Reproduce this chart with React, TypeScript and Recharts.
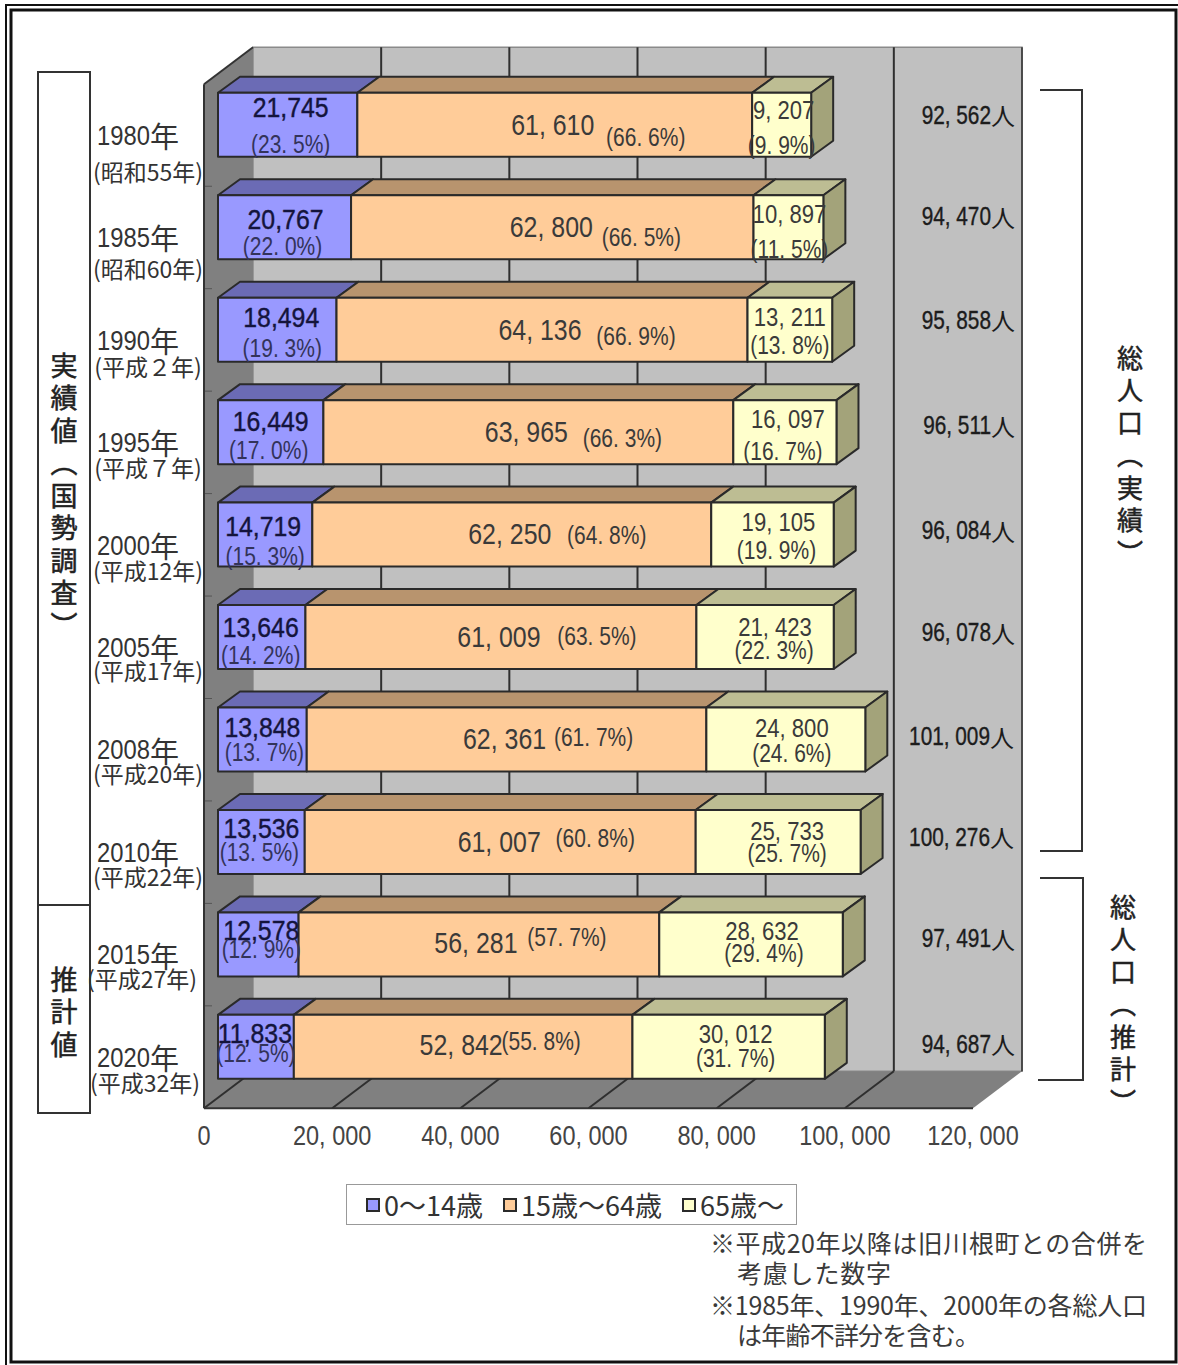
import React from "react";
import { Bar, BarChart, LabelList, Legend, XAxis, YAxis } from "recharts";

// data
const years = ["1980", "1985", "1990", "1995", "2000", "2005", "2008", "2010", "2015", "2020"];
const eras = ["(昭和55年)", "(昭和60年)", "(平成２年)", "(平成７年)", "(平成12年)", "(平成17年)", "(平成20年)", "(平成22年)", "(平成27年)", "(平成32年)"];
const young = [21745, 20767, 18494, 16449, 14719, 13646, 13848, 13536, 12578, 11833];
const working = [61610, 62800, 64136, 63965, 62250, 61009, 62361, 61007, 56281, 52842];
const elderly = [9207, 10897, 13211, 16097, 19105, 21423, 24800, 25733, 28632, 30012];
const youngPct = [23.5, 22.0, 19.3, 17.0, 15.3, 14.2, 13.7, 13.5, 12.9, 12.5];
const workingPct = [66.6, 66.5, 66.9, 66.3, 64.8, 63.5, 61.7, 60.8, 57.7, 55.8];
const elderlyPct = [9.9, 11.5, 13.8, 16.7, 19.9, 22.3, 24.6, 25.7, 29.4, 31.7];
const totals = [92562, 94470, 95858, 96511, 96084, 96078, 101009, 100276, 97491, 94687];
const xTicks = [0, 20000, 40000, 60000, 80000, 100000, 120000];
const xTickLabels = ["0", "20, 000", "40, 000", "60, 000", "80, 000", "100, 000", "120, 000"];

const chartData = years.map((year, i) => ({
  year,
  young: young[i],
  working: working[i],
  elderly: elderly[i],
}));

// label nudges, relative to the segment centre (x) and bar top (y)
const youngValDx = [3, 1, 4, 0, -2, -1, 0, 0, 3, -1];
const youngValDy = [15, 24, 20, 21, 24, 23, 20, 19, 18, 19];
const youngPctDx = [3, -2, 5, -2, 0, -1, 2, -2, 3, 0];
const youngPctDy = [52, 51, 51, 50, 54, 50, 45, 42, 37, 38];
const workingValDx = [-2, -1, -2, -2, -2, -2, -2, -1, -3, -2];
const workingValDy = [33, 32, 33, 32, 32, 32, 32, 32, 31, 30];
const workingPctDx = [91, 89, 94, 94, 95, 96, 87, 95, 88, 78];
const workingPctDy = [45, 42, 39, 38, 33, 31, 30, 28, 25, 26];
const elderlyValDx = [2, 1, 0, 3, 6, 10, 6, 9, 11, 7];
const elderlyValDy = [17, 19, 19, 19, 19, 22, 20, 21, 18, 19];
const elderlyPctDx = [0, 1, 0, -2, 4, 9, 6, 9, 13, 7];
const elderlyPctDy = [53, 54, 48, 51, 48, 45, 46, 43, 41, 43];
const totalDy = [22, 21, 22, 25, 28, 27, 29, 27, 26, 29];
const eraDy = [47, 42, 37, 36, 36, 34, 34, 35, 34, 36];
const eraDx = [0, 0, 0, 0, 0, 0, 0, 0, -6, -3];

const WIDTH = 1178;
const HEIGHT = 1365;
const PLOT_LEFT = 218;
const PLOT_W = 769;
const PLOT_TOP = 73.8;
const PLOT_H = 1024.5;
const X_MAX = 120000;
// how far the chart floor runs back, and where the bars sit in that depth
const BACK_DX = 49;
const BACK_DY = 37;
const FRONT_DX = 14;
const FRONT_DY = 10;
const BAR_DX = 22;
const BAR_DY = 16;
const WALL_H = 1024;

const LATIN = '"Liberation Sans", sans-serif';
const CJK = '"Noto Sans CJK JP", sans-serif';
const INK = "#2a2a2a";

const fmt = (v: number) => String(v).replace(/(\d)(\d{3})$/, "$1, $2");
const fmtPct = (p: number) => `(${p.toFixed(1).replace(".", ". ")}%)`;

const front0 = PLOT_LEFT - FRONT_DX;
const frontY = PLOT_TOP + PLOT_H + FRONT_DY;
const backTop = frontY - BACK_DY - WALL_H;
const stepX = (v: number) => front0 + (v / X_MAX) * PLOT_W;

// the reference digits are tall and narrow, so squeeze them sideways
const SlimText = ({ x, y, size, sx, anchor = "middle", fill = "#3a3a3a", heavy = 0, children }: any) => (
  <text
    transform={`translate(${x},${y}) scale(${sx},1)`}
    fontFamily={LATIN}
    fontSize={size}
    fill={fill}
    stroke={heavy ? fill : "none"}
    strokeWidth={heavy}
    textAnchor={anchor}
    dominantBaseline="central"
  >
    {children}
  </text>
);

const Box3D = (top: string, side: string | null) => (props: any) => {
  const { x, y, width, height, fill } = props;
  const right = x + width;
  return (
    <g stroke={INK} strokeWidth={2} strokeLinejoin="round">
      <polygon
        points={`${x},${y} ${right},${y} ${right + BAR_DX},${y - BAR_DY} ${x + BAR_DX},${y - BAR_DY}`}
        fill={top}
      />
      {side && (
        <polygon
          points={`${right},${y} ${right + BAR_DX},${y - BAR_DY} ${right + BAR_DX},${y + height - BAR_DY} ${right},${y + height}`}
          fill={side}
        />
      )}
      <rect x={x} y={y} width={width} height={height} fill={fill} />
    </g>
  );
};

const segmentLabel =
  (
    valueText: (i: number) => string,
    pct: number[],
    valDx: number[],
    valDy: number[],
    pctDx: number[],
    pctDy: number[],
    valueColor: string,
    pctColor: string,
    valueSize: number,
    valueSx: number,
    valueHeavy: number
  ) =>
  (props: any) => {
    const box = props.viewBox ?? props;
    const i = props.index;
    const cx = box.x + box.width / 2;
    return (
      <g>
        <SlimText x={cx + valDx[i]} y={box.y + valDy[i]} size={valueSize} sx={valueSx} fill={valueColor} heavy={valueHeavy}>
          {valueText(i)}
        </SlimText>
        <SlimText x={cx + pctDx[i]} y={box.y + pctDy[i]} size={25} sx={0.84} fill={pctColor}>
          {fmtPct(pct[i])}
        </SlimText>
      </g>
    );
  };

const elderlyLabel = (props: any) => {
  const box = props.viewBox ?? props;
  const i = props.index;
  const inner = segmentLabel((n) => fmt(elderly[n]), elderlyPct, elderlyValDx, elderlyValDy, elderlyPctDx, elderlyPctDy, "#3a3a3a", "#3a3a3a", 26, 0.85, 0)(props);
  const end = totals[i] > 100000 ? 990 : 991;
  return (
    <g>
      {inner}
      <SlimText x={end} y={box.y + totalDy[i]} size={26} sx={0.8} anchor="end" fill="#1c1c1c" heavy={0.4}>
        {fmt(totals[i])}
      </SlimText>
      <text x={end} y={box.y + totalDy[i]} fontFamily={CJK} fontSize={24} fill="#1c1c1c" dominantBaseline="central">
        人
      </text>
    </g>
  );
};

const YearTick = (props: any) => {
  const { y, payload } = props;
  const i = payload.index;
  return (
    <g>
      <SlimText x={97} y={y + 10} size={28} sx={0.85} anchor="start" fill="#333">
        {years[i]}
      </SlimText>
      <text x={150} y={y + 10} fontFamily={CJK} fontSize={29} fill="#333" dominantBaseline="central">
        年
      </text>
      <text
        x={148 + eraDx[i]}
        y={y + eraDy[i] - 1}
        fontFamily={CJK}
        fontSize={23}
        fill="#333"
        textAnchor="middle"
        dominantBaseline="central"
      >
        {eras[i]}
      </text>
    </g>
  );
};

const ValueTick = (props: any) => {
  const { x, payload, index } = props;
  return (
    <SlimText x={x - FRONT_DX} y={frontY + 27} size={27} sx={0.87} fill="#444">
      {xTickLabels[index ?? xTicks.indexOf(payload.value)]}
    </SlimText>
  );
};

const AgeLegend = ({ payload }: any) => (
  <div
    style={{
      boxSizing: "border-box",
      width: 451,
      height: 41,
      background: "#fff",
      border: "1.5px solid #999",
      display: "flex",
      alignItems: "center",
      paddingLeft: 19,
      fontFamily: CJK,
      fontSize: 27,
      color: "#333",
      gap: 20,
      whiteSpace: "nowrap",
    }}
  >
    {(payload ?? []).map((item: any) => (
      <span key={item.value} style={{ display: "flex", alignItems: "center", gap: 4 }}>
        <span
          style={{
            boxSizing: "border-box",
            width: 14,
            height: 14,
            background: item.color,
            border: `2.5px solid ${INK}`,
          }}
        />
        {item.value}
      </span>
    ))}
  </div>
);

const Walls = () => (
  <g>
    <polygon
      points={`${front0 + BACK_DX},${backTop} ${front0 + BACK_DX + PLOT_W},${backTop} ${front0 + BACK_DX + PLOT_W},${frontY - BACK_DY} ${front0 + BACK_DX},${frontY - BACK_DY}`}
      fill="#c0c0c0"
      stroke="#8a8a8a"
      strokeWidth={1.5}
    />
    <polygon
      points={`${front0},${frontY} ${front0},${backTop + BACK_DY} ${front0 + BACK_DX},${backTop} ${front0 + BACK_DX},${frontY - BACK_DY}`}
      fill="#808080"
    />
    <polygon
      points={`${front0},${frontY} ${front0 + PLOT_W},${frontY} ${front0 + PLOT_W + BACK_DX},${frontY - BACK_DY} ${front0 + BACK_DX},${frontY - BACK_DY}`}
      fill="#808080"
    />
    {xTicks.map((v) => (
      <g key={v} stroke="#2f2f2f" strokeWidth={v === X_MAX ? 1.5 : 2}>
        {v > 0 && <line x1={stepX(v) + BACK_DX} y1={backTop} x2={stepX(v) + BACK_DX} y2={frontY - BACK_DY} />}
        {v < X_MAX && <line x1={stepX(v)} y1={frontY} x2={stepX(v) + BACK_DX} y2={frontY - BACK_DY} />}
      </g>
    ))}
    {years.slice(1).map((y, i) => {
      const ty = PLOT_TOP + ((i + 1) * PLOT_H) / years.length + FRONT_DY;
      return <line key={y} x1={front0} y1={ty} x2={front0 + 8} y2={ty} stroke="#555" strokeWidth={1} />;
    })}
    <line x1={front0} y1={backTop + BACK_DY} x2={front0 + BACK_DX} y2={backTop} stroke="#333" strokeWidth={2} />
    <line x1={front0} y1={backTop + BACK_DY} x2={front0} y2={frontY} stroke="#333" strokeWidth={2} />
    <line x1={front0} y1={frontY} x2={front0 + PLOT_W} y2={frontY} stroke="#333" strokeWidth={2} />
  </g>
);

const Frame = () => (
  <g fill="none" stroke="#111">
    <rect x={6} y={5} width={1200} height={1400} strokeWidth={2} />
    <rect x={11} y={10} width={1165} height={1352} strokeWidth={3} />
  </g>
);

const VerticalText = ({ x, y, size, children }: any) => (
  <text
    x={x}
    y={y}
    fontFamily={CJK}
    fontSize={size}
    fill="#222"
    stroke="#222"
    strokeWidth={0.5}
    style={{ writingMode: "vertical-rl", letterSpacing: 32.5 - size }}
  >
    {children}
  </text>
);

const Annotations = () => (
  <g>
    <rect x={38} y={72} width={52} height={1041} fill="#fff" stroke="#333" strokeWidth={2} />
    <line x1={38} y1={905} x2={90} y2={905} stroke="#333" strokeWidth={2} />
    <VerticalText x={64} y={352} size={27}>実績値（国勢調査）</VerticalText>
    <VerticalText x={64} y={966} size={27}>推計値</VerticalText>
    <polyline points="1040,90 1082,90 1082,851 1040,851" fill="none" stroke="#333" strokeWidth={2} />
    <polyline points="1040,878 1083,878 1083,1080 1038,1080" fill="none" stroke="#333" strokeWidth={2} />
    <VerticalText x={1130} y={345} size={26}>総人口（実績）</VerticalText>
    <VerticalText x={1123} y={894} size={26}>総人口（推計）</VerticalText>
    <g fontFamily={CJK} fontSize={25} fill="#3a3a3a" dominantBaseline="central">
      <text x={710} y={1242} textLength={437} lengthAdjust="spacing">※平成20年以降は旧川根町との合併を</text>
      <text x={737} y={1272} textLength={154} lengthAdjust="spacing">考慮した数字</text>
      <text x={710} y={1304} textLength={437} lengthAdjust="spacing">※1985年、1990年、2000年の各総人口</text>
      <text x={737} y={1334} textLength={243} lengthAdjust="spacing">は年齢不詳分を含む。</text>
    </g>
  </g>
);

const App = () => (
  <div style={{ position: "absolute", left: 0, top: 0, width: WIDTH, height: HEIGHT, background: "#fff", overflow: "hidden" }}>
    <BarChart
      width={WIDTH}
      height={HEIGHT}
      data={chartData}
      layout="vertical"
      margin={{ top: PLOT_TOP, right: WIDTH - PLOT_LEFT - PLOT_W, bottom: HEIGHT - PLOT_TOP - PLOT_H - 60, left: 0 }}
      barSize={64}
    >
      <Frame />
      <Annotations />
      <Walls />
      <XAxis
        type="number"
        domain={[0, X_MAX]}
        ticks={xTicks}
        height={60}
        axisLine={false}
        tickLine={false}
        tick={<ValueTick />}
        interval={0}
      />
      <YAxis
        type="category"
        dataKey="year"
        width={PLOT_LEFT}
        axisLine={false}
        tickLine={false}
        tick={<YearTick />}
        interval={0}
      />
      <Legend
        layout="horizontal"
        verticalAlign="middle"
        align="center"
        content={<AgeLegend />}
        wrapperStyle={{ position: "absolute", left: 346, top: 1184, width: 451, height: 41 }}
      />
      <Bar
        dataKey="young"
        name="0～14歳"
        stackId="age"
        fill="#9999ff"
        shape={Box3D("#6b6bb5", null)}
        isAnimationActive={false}
      >
        <LabelList
          dataKey="young"
          content={segmentLabel((n) => young[n].toLocaleString("en-US"), youngPct, youngValDx, youngValDy, youngPctDx, youngPctDy, "#14143c", "#33335a", 27, 0.92, 0.4)}
        />
      </Bar>
      <Bar
        dataKey="working"
        name="15歳～64歳"
        stackId="age"
        fill="#ffcc99"
        shape={Box3D("#b8946e", null)}
        isAnimationActive={false}
      >
        <LabelList
          dataKey="working"
          content={segmentLabel((n) => fmt(working[n]), workingPct, workingValDx, workingValDy, workingPctDx, workingPctDy, "#3a3a3a", "#3a3a3a", 29, 0.86, 0)}
        />
      </Bar>
      <Bar
        dataKey="elderly"
        name="65歳～"
        stackId="age"
        fill="#ffffcc"
        shape={Box3D("#bdbd93", "#a3a37a")}
        isAnimationActive={false}
      >
        <LabelList dataKey="elderly" content={elderlyLabel} />
      </Bar>
    </BarChart>
  </div>
);

export default App;
